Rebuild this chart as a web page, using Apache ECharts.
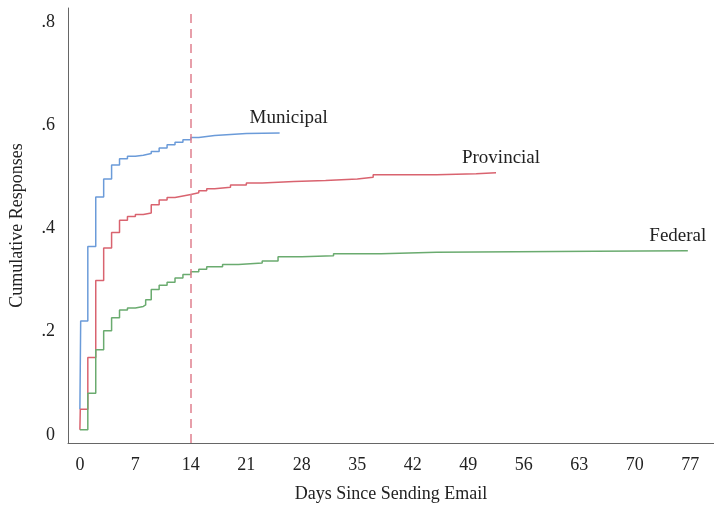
<!DOCTYPE html>
<html>
<head>
<meta charset="utf-8">
<script src="https://cdn.jsdelivr.net/npm/echarts@6/dist/echarts.min.js"></script>
<style>html,body{margin:0;padding:0;background:#fff}#c{width:714px;height:507px}</style>
</head>
<body>
<div id="c"></div>
<script>
// ---- data ----
const xTicks = [0, 7, 14, 21, 28, 35, 42, 49, 56, 63, 70, 77];
const yTicks = [0, 0.2, 0.4, 0.6, 0.8];
const seriesNames = ['Municipal', 'Provincial', 'Federal'];

const municipalDays   = [0, 0.1, 1, 2, 3, 4, 5, 6, 7, 8, 9, 10, 11, 12, 13, 14, 15, 16, 17, 19, 21, 25.2];
const municipalValues = [0.05, 0.221, 0.365, 0.461, 0.496, 0.523, 0.535, 0.540, 0.542, 0.545, 0.549, 0.556, 0.562, 0.567, 0.572, 0.576, 0.578, 0.580, 0.582, 0.584, 0.585, 0.586];

const provincialDays   = [0, 0.05, 1, 2, 3, 4, 5, 6, 7, 8, 9, 10, 11, 12, 13, 14, 15, 16, 17, 19, 21, 23, 27, 31, 35, 37, 45, 50, 52.5];
const provincialValues = [0.01, 0.05, 0.150, 0.299, 0.362, 0.392, 0.416, 0.423, 0.427, 0.430, 0.446, 0.455, 0.460, 0.463, 0.466, 0.469, 0.473, 0.477, 0.480, 0.484, 0.488, 0.491, 0.493, 0.496, 0.499, 0.504, 0.506, 0.508, 0.509];

const federalDays   = [0, 1, 2, 3, 4, 5, 6, 7, 8, 8.3, 9, 10, 11, 12, 13, 14, 15, 16, 18, 20, 23, 25, 28, 32, 38, 45, 55, 65, 76.7];
const federalValues = [0.01, 0.081, 0.165, 0.202, 0.227, 0.242, 0.246, 0.249, 0.252, 0.262, 0.282, 0.290, 0.296, 0.304, 0.311, 0.316, 0.321, 0.326, 0.330, 0.333, 0.337, 0.345, 0.347, 0.351, 0.354, 0.355, 0.356, 0.357, 0.358];

const cutoffDay = 14;

// ---- chart ----
const colors = ['#6b9bd9', '#d9636f', '#6aab6f'];
const labelOffsets = [[9, 0], [5, 0], [-10, 0]];
const FONT = '"Liberation Serif", "DejaVu Serif", serif';

function pairs(d, v) { return d.map((x, i) => [x, v[i]]); }
const allData = [pairs(municipalDays, municipalValues), pairs(provincialDays, provincialValues), pairs(federalDays, federalValues)];

const series = allData.map((data, i) => {
  const last = data[data.length - 1];
  const s = {
    name: seriesNames[i],
    type: 'line',
    step: 'end',
    data: data,
    showSymbol: false,
    silent: true,
    lineStyle: { color: colors[i], width: 1.5 },
    markPoint: {
      symbol: 'rect', symbolSize: 1,
      itemStyle: { color: 'rgba(0,0,0,0)' },
      label: { show: true, position: 'top', distance: 4, offset: labelOffsets[i],
               formatter: seriesNames[i], color: '#222', fontFamily: FONT, fontSize: 19 },
      data: [{ coord: last }]
    }
  };
  if (i === 0) {
    s.markLine = {
      silent: true, symbol: 'none',
      lineStyle: { color: '#e0808e', type: [9, 6], width: 1.5 },
      label: { show: false },
      data: [{ xAxis: cutoffDay }]
    };
  }
  return s;
});

const chart = echarts.init(document.getElementById('c'), null, { renderer: 'canvas' });
chart.setOption({
  animation: false,
  backgroundColor: '#fff',
  grid: { left: 68, right: 0, top: 8, bottom: 64, containLabel: false, outerBoundsMode: 'none' },
  xAxis: {
    type: 'value', min: -1.5, max: 80,
    name: 'Days Since Sending Email', nameLocation: 'middle', nameGap: 42,
    nameTextStyle: { fontFamily: FONT, fontSize: 18, color: '#222' },
    axisLine: { show: true, onZero: false, lineStyle: { color: '#666', width: 1 } },
    axisTick: { show: false },
    splitLine: { show: false },
    axisLabel: { customValues: xTicks, margin: 13, fontFamily: FONT, fontSize: 18, color: '#222' }
  },
  yAxis: {
    type: 'value', min: -0.0155, max: 0.827,
    name: 'Cumulative Responses', nameLocation: 'middle', nameGap: 42,
    nameTextStyle: { fontFamily: FONT, fontSize: 18, color: '#222' },
    axisLine: { show: true, onZero: false, lineStyle: { color: '#666', width: 1 } },
    axisTick: { show: false },
    splitLine: { show: false },
    axisLabel: { customValues: yTicks, margin: 13, padding: [6, 0, 0, 0], fontFamily: FONT, fontSize: 18, color: '#222',
      formatter: v => v === 0 ? '0' : String(Math.round(v * 10) / 10).replace(/^0/, '') }
  },
  series: series
});
</script>
</body>
</html>
